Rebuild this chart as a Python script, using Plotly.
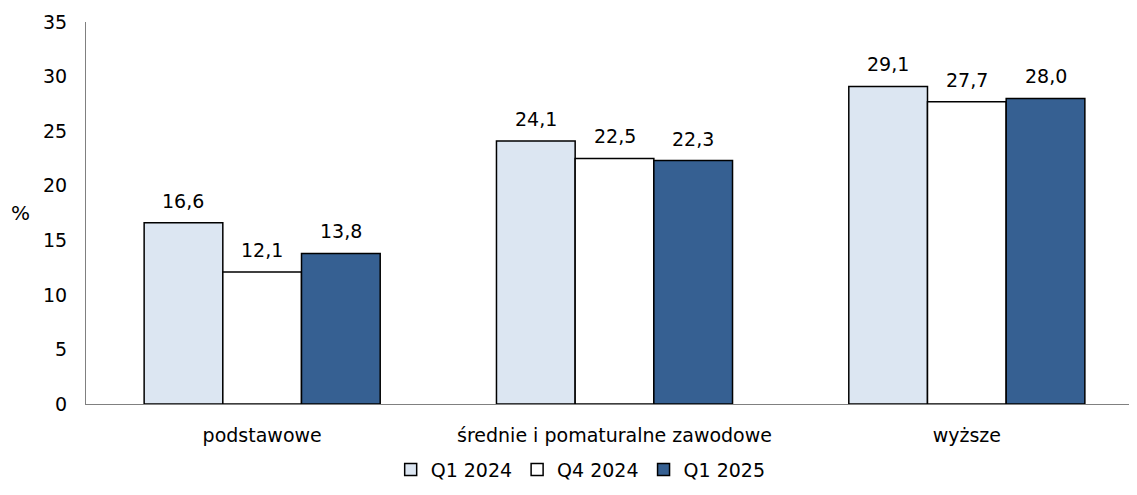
import plotly.graph_objects as go

categories = ["podstawowe", "średnie i pomaturalne zawodowe", "wyższe"]
series_names = ["Q1 2024", "Q4 2024", "Q1 2025"]
q1_2024 = [16.6, 24.1, 29.1]
q4_2024 = [12.1, 22.5, 27.7]
q1_2025 = [13.8, 22.3, 28.0]
y_ticks = [0, 5, 10, 15, 20, 25, 30, 35]

series_values = [q1_2024, q4_2024, q1_2025]
colors = ["#DCE6F2", "#FFFFFF", "#366092"]
FONT = "DejaVu Sans"
FS = 19

fig = go.Figure()
bargap = 0.33
w = (1 - bargap) / 3
for j, (name, vals, col) in enumerate(zip(series_names, series_values, colors)):
    fig.add_trace(go.Bar(
        x=categories, y=vals, name=name,
        marker=dict(color=col, line=dict(color="#000000", width=1.5)),
    ))
    for i, v in enumerate(vals):
        fig.add_annotation(
            x=i + (j - 1) * w, y=v, text=f"{v:.1f}".replace(".", ","),
            showarrow=False, yanchor="bottom", yshift=9,
            font=dict(family=FONT, size=FS, color="#000000"),
        )

fig.add_annotation(
    xref="paper", yref="paper", x=-0.062, y=0.5, text="%",
    showarrow=False, xanchor="center", yanchor="middle",
    font=dict(family=FONT, size=FS + 1, color="#000000"),
)

fig.update_layout(
    width=1137, height=495,
    margin=dict(l=78, r=2, t=14, b=99, autoexpand=False),
    paper_bgcolor="white", plot_bgcolor="white",
    barmode="group", bargap=bargap, bargroupgap=0,
    font=dict(family=FONT, size=FS, color="#000000"),
    showlegend=True,
    legend=dict(
        orientation="h", x=0.468, xanchor="center", y=-0.122, yanchor="top",
        font=dict(family=FONT, size=FS, color="#000000"),
        itemwidth=30, traceorder="normal",
    ),
    xaxis=dict(
        showline=True, linecolor="#808080", linewidth=1, automargin=False,
        ticks="", showgrid=False, ticklabelstandoff=14,
        tickfont=dict(family=FONT, size=FS),
    ),
    yaxis=dict(
        range=[0, 35], tickvals=y_ticks, showline=True, linecolor="#808080",
        linewidth=1, showgrid=False, ticks="", zeroline=False, automargin=False,
        ticklabelstandoff=14,
        tickfont=dict(family=FONT, size=FS),
    ),
)

fig.write_html("out.html")
